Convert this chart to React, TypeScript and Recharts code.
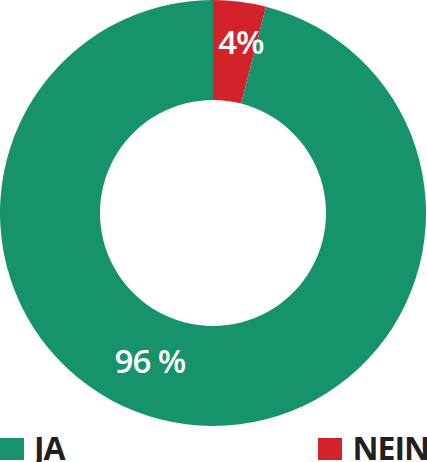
import React from 'react';
import { PieChart, Pie, Cell, Legend } from 'recharts';

// slice order follows the drawing (clockwise from 12 o'clock)
const categories = ['NEIN', 'JA'];
const values = [4, 96];
const labels = ['4%', '96 %'];
const legendOrder = ['JA', 'NEIN'];

const COLORS: Record<string, string> = { JA: '#16936A', NEIN: '#D2232A' };

const data = categories.map((name, i) => ({ name, value: values[i], label: labels[i] }));

const RAD = Math.PI / 180;
const LABEL_RADIUS = [174, 160];
const LABEL_SHIFT = [-2, -16];
const FONT = '"Open Sans", sans-serif';

const renderLabel = (props: any) => {
  const { cx, cy, midAngle, index } = props;
  const a = (midAngle + LABEL_SHIFT[index]) * RAD;
  const r = LABEL_RADIUS[index];
  const x = cx + r * Math.cos(a);
  const y = cy - r * Math.sin(a);
  return (
    <text
      x={x}
      y={y}
      fill="#fff"
      textAnchor="middle"
      dominantBaseline="central"
      fontFamily={FONT}
      fontWeight={600}
      fontSize={33}
      letterSpacing={-1}
    >
      {data[index].label}
    </text>
  );
};

const renderLegend = () => (
  <div style={{ display: 'flex', justifyContent: 'space-between', width: 427, height: 24, fontFamily: FONT }}>
    {legendOrder.map((name, i) => (
      <div key={name} style={{ display: 'flex', alignItems: 'flex-start', height: 24, marginRight: i === legendOrder.length - 1 ? -2 : 0 }}>
        <span style={{ display: 'inline-block', width: 24, height: 22, marginTop: 2, background: COLORS[name], marginRight: 10 }} />
        <span
          style={{
            display: 'inline-block',
            height: 24,
            overflow: 'visible',
            fontSize: 32,
            fontWeight: 700,
            color: '#231F20',
            lineHeight: '24px',
            letterSpacing: -1,
          }}
        >
          {name}
        </span>
      </div>
    ))}
  </div>
);

const App: React.FC = () => (
  <div style={{ position: 'absolute', left: 0, top: 0, background: '#fff' }}>
    <PieChart width={427} height={462} margin={{ top: 0, right: 0, bottom: 0, left: 0 }}>
      <Pie
        data={data}
        dataKey="value"
        nameKey="name"
        cx={213}
        cy={213}
        outerRadius={213}
        innerRadius={113}
        startAngle={90}
        endAngle={-270}
        stroke="none"
        label={renderLabel}
        labelLine={false}
        isAnimationActive={false}
      >
        {data.map((d) => (
          <Cell key={d.name} fill={COLORS[d.name]} />
        ))}
      </Pie>
      <Legend content={renderLegend} wrapperStyle={{ left: 0, top: 436, width: 427, height: 24 }} />
    </PieChart>
  </div>
);

export default App;
